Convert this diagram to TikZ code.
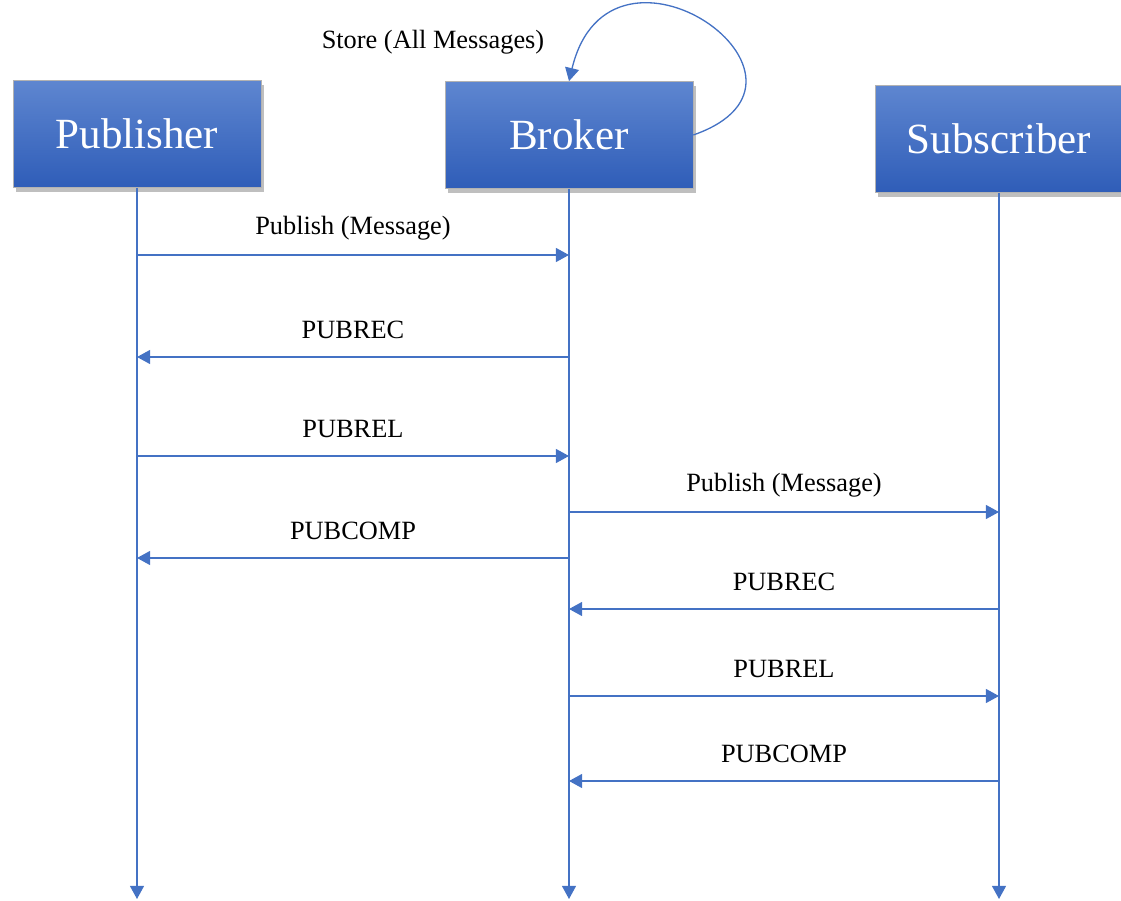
\documentclass[tikz,border=0pt]{standalone}
\usepackage{fontspec}
\setmainfont{Liberation Serif}
\usetikzlibrary{arrows.meta, positioning, calc, shadows}
\definecolor{LineBlue}{RGB}{68,114,196}
\definecolor{BoxTop}{RGB}{94,134,208}
\definecolor{BoxBottom}{RGB}{47,93,184}

\begin{document}
\begin{tikzpicture}[x=0.02cm, y=-0.02cm, >={Triangle[length=7.5pt, width=8pt]},
        actor/.style={rectangle, minimum width=4.96cm, minimum height=2.14cm,
            top color=BoxTop, bottom color=BoxBottom, draw=gray!60, thin,
            text=white, font=\fontsize{24.5}{28}\selectfont,
            drop shadow={shadow xshift=1.5pt, shadow yshift=-2.5pt, fill=black, opacity=0.25}},
        msg/.style={->, LineBlue, line width=0.75pt},
        msglabel/.style={midway, yshift=15.5pt, text=black, font=\fontsize{15}{18}\selectfont}]
        \useasboundingbox (0,0) rectangle (1121,901);

        % Participants
        \node[actor] (publisher) at (137,134) {Publisher};
        \node[actor] (broker) at (569,135) {Broker};
        \node[actor] (subscriber) at (999,139) {Subscriber};

        % Lifelines
        \foreach \who in {publisher, broker, subscriber} {
            \coordinate (\who-end) at (\who |- 0,899);
            \draw[msg] (\who) -- (\who-end);
        }

        % Store loop
        \draw[msg] (broker.east) .. controls +(157,-55) and +(41,-171) .. (broker.north);
        \node[font=\fontsize{15}{18}\selectfont] (store) at (433,42) {Store (All Messages)};

        % Messages
        \foreach \y/\src/\dst/\txt in {255/publisher/broker/Publish (Message),
                357/broker/publisher/PUBREC,
                456/publisher/broker/PUBREL,
                512/broker/subscriber/Publish (Message),
                558/broker/publisher/PUBCOMP,
                609/subscriber/broker/PUBREC,
                696/broker/subscriber/PUBREL,
                781/subscriber/broker/PUBCOMP} {
            \coordinate (\src-\y) at (\src |- 0,\y);
            \coordinate (\dst-\y) at (\dst |- 0,\y);
            \draw[msg] (\src-\y) -- (\dst-\y) node[msglabel] {\txt};
        }
    \end{tikzpicture}
\end{document}
